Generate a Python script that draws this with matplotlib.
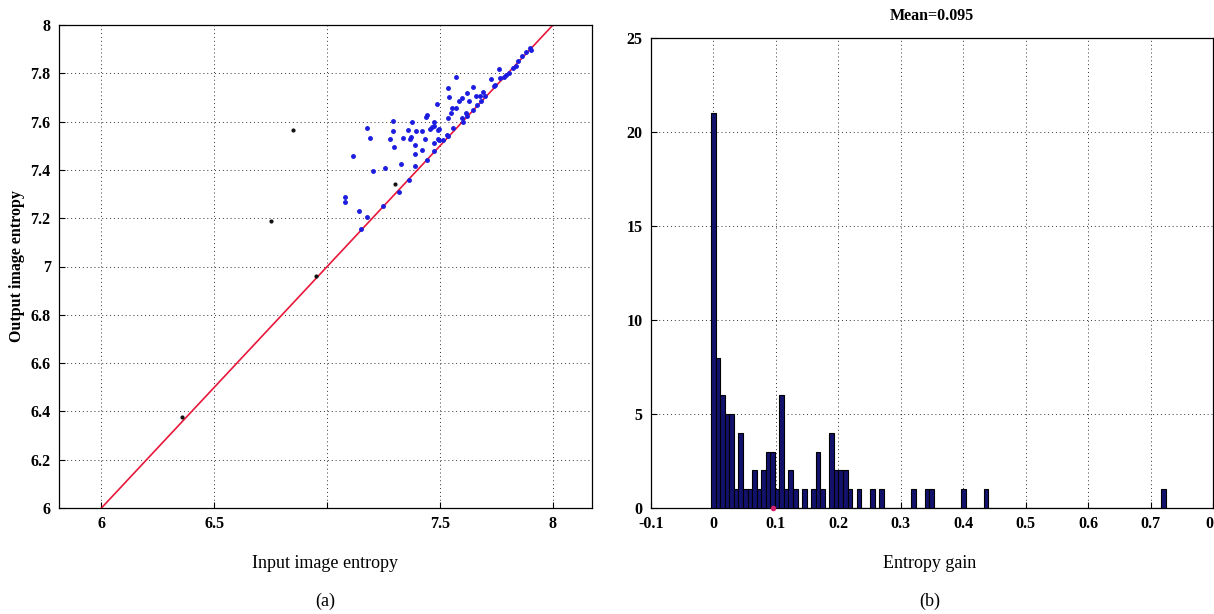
import matplotlib
matplotlib.use("Agg")
import matplotlib.pyplot as plt
import numpy as np

plt.rcParams['font.family'] = ['Liberation Serif', 'DejaVu Serif']

# ---- left panel data: input vs output entropy ----
blue_in = [7.881, 7.903, 7.844, 7.836, 7.822, 7.763, 7.807, 7.785, 7.766, 7.726,
           7.571, 7.740, 7.534, 7.645, 7.689, 7.620, 7.541, 7.586, 7.598, 7.659,
           7.677, 7.630, 7.681, 7.487, 7.554, 7.571, 7.645, 7.615, 7.549, 7.441,
           7.438, 7.534, 7.598, 7.291, 7.376, 7.475, 7.600, 7.465, 7.457, 7.472,
           7.494, 7.490, 7.559, 7.176, 7.358, 7.394, 7.419, 7.291, 7.371, 7.368,
           7.338, 7.279, 7.189, 7.435, 7.490, 7.497, 7.513, 7.531, 7.389, 7.294,
           7.475, 7.419, 7.389, 7.114, 7.389, 7.327, 7.254, 7.205, 7.444, 7.078,
           7.078, 7.140, 7.177, 7.150, 7.317, 7.364,
           7.700, 7.745, 7.790, 7.865, 7.475, 7.535, 7.620, 7.665, 7.900, 7.245]
blue_out = [7.889, 7.896, 7.852, 7.831, 7.822, 7.819, 7.801, 7.786, 7.779, 7.776,
            7.786, 7.749, 7.739, 7.745, 7.722, 7.717, 7.701, 7.687, 7.698, 7.704,
            7.704, 7.687, 7.687, 7.674, 7.657, 7.657, 7.646, 7.635, 7.635, 7.627,
            7.621, 7.616, 7.616, 7.602, 7.598, 7.598, 7.598, 7.577, 7.571, 7.580,
            7.571, 7.564, 7.575, 7.572, 7.567, 7.561, 7.561, 7.561, 7.536, 7.529,
            7.534, 7.529, 7.531, 7.529, 7.529, 7.523, 7.525, 7.543, 7.502, 7.495,
            7.512, 7.484, 7.465, 7.457, 7.418, 7.425, 7.409, 7.395, 7.442, 7.287,
            7.267, 7.229, 7.204, 7.155, 7.310, 7.359,
            7.705, 7.750, 7.795, 7.870, 7.480, 7.540, 7.625, 7.670, 7.905, 7.250]
black_in = [7.301, 6.848, 6.752, 6.358, 6.950]
black_out = [7.343, 7.564, 7.187, 6.377, 6.960]
diag = [6, 8]

# ---- right panel data: histogram of entropy gain (100 bins) ----
bin_left = -0.0037
bin_width = 0.00728
counts = [21, 8, 6, 5, 5, 1, 4, 1, 1, 2,
          1, 2, 3, 3, 1, 6, 1, 2, 1, 0,
          1, 0, 1, 3, 1, 0, 4, 2, 2, 2,
          1, 0, 1, 0, 0, 1, 0, 1, 0, 0,
          0, 0, 0, 0, 1, 0, 0, 1, 1, 0,
          0, 0, 0, 0, 0, 1, 0, 0, 0, 0,
          1, 0, 0, 0, 0, 0, 0, 0, 0, 0,
          0, 0, 0, 0, 0, 0, 0, 0, 0, 0,
          0, 0, 0, 0, 0, 0, 0, 0, 0, 0,
          0, 0, 0, 0, 0, 0, 0, 0, 0, 1]
mean_gain = 0.095
gain_ticks = [-0.1, 0, 0.1, 0.2, 0.3, 0.4, 0.5, 0.6, 0.7, 0.8]
# the picture is cropped at the right: only the "0" of the last label shows
gain_labels = ['-0.1', '0', '0.1', '0.2', '0.3', '0.4', '0.5', '0.6', '0.7', '0']

fig = plt.figure(figsize=(12.14, 6.14), dpi=100)
W, H = 1214, 614

# left axes
ax1 = fig.add_axes([59 / W, 1 - 508 / H, (592 - 59) / W, (508 - 25) / H])
ax1.plot(diag, diag, color='#e8173a', lw=1.2, zorder=2)
ax1.plot(blue_in, blue_out, '.', color='#1c1ce0', ms=5, zorder=3)
ax1.plot(black_in, black_out, '.', color='#111111', ms=4, zorder=3)
ax1.set_xlim(5.812, 8.173)
ax1.set_ylim(6, 8)
ax1.set_xticks([6, 6.5, 7, 7.5, 8])
ax1.set_xticklabels(['6', '6.5', '', '7.5', '8'])
ax1.set_yticks(np.arange(6, 8.01, 0.2))
ax1.set_yticklabels(['6', '6.2', '6.4', '6.6', '6.8', '7', '7.2', '7.4', '7.6', '7.8', '8'])
ax1.set_ylabel('Output image entropy', fontsize=11.5, fontweight='bold', labelpad=4)

# right axes
ax2 = fig.add_axes([651 / W, 1 - 508 / H, (1213 - 651) / W, (508 - 38) / H])
centers = bin_left + bin_width * (np.arange(len(counts)) + 0.5)
ax2.bar(centers, counts, width=bin_width, color='#12126e', edgecolor='black', lw=0.8, zorder=3)
ax2.plot([mean_gain], [0], marker='o', color='#d0206a', ms=3, clip_on=False, zorder=4)
ax2.set_xlim(-0.1, 0.8)
ax2.set_ylim(0, 25)
ax2.set_xticks(gain_ticks)
ax2.set_xticklabels(gain_labels)
ax2.set_yticks([0, 5, 10, 15, 20, 25])
ax2.set_title('Mean=0.095', fontsize=11.5, fontweight='bold', pad=13)

for ax in (ax1, ax2):
    ax.grid(True, color='black', ls=(0, (1, 3)), lw=0.7, alpha=0.8)
    ax.set_axisbelow(True)
    ax.tick_params(direction='in', length=4, width=0.8, labelsize=11.5, pad=6)
    for lab in ax.get_xticklabels() + ax.get_yticklabels():
        lab.set_fontweight('bold')
    for s in ax.spines.values():
        s.set_linewidth(0.9)

ax2.get_xticklabels()[-1].set_horizontalalignment('right')

fig.text(325 / W, 1 - 563 / H, 'Input image entropy', ha='center', va='center', fontsize=13)
fig.text(325 / W, 1 - 601 / H, '(a)', ha='center', va='center', fontsize=13)
fig.text(930 / W, 1 - 563 / H, 'Entropy gain', ha='center', va='center', fontsize=13)
fig.text(930 / W, 1 - 601 / H, '(b)', ha='center', va='center', fontsize=13)

fig.savefig('out.png', dpi=100)
